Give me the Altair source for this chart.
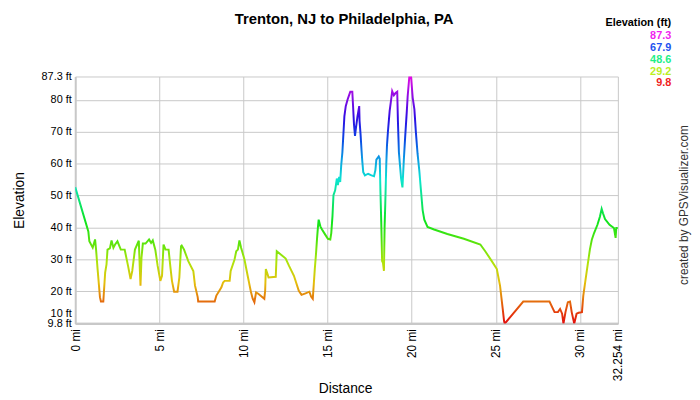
import colorsys
import altair as alt
import pandas as pd

# ---- data ----
dist_mi = [0.00, 0.78, 0.84, 1.04, 1.18, 1.24, 1.33, 1.47, 1.53, 1.67, 1.78, 1.86, 1.92, 2.06, 2.16,
           2.27, 2.37, 2.51, 2.71, 2.94, 3.14, 3.29, 3.39, 3.55, 3.78, 3.84, 3.88, 3.94, 4.02, 4.18,
           4.39, 4.51, 4.61, 4.76, 4.90, 5.06, 5.16, 5.25, 5.37, 5.55, 5.65, 5.75, 5.88, 6.08, 6.19,
           6.29, 6.33, 6.47, 6.72, 7.02, 7.12, 7.28, 7.31, 8.29, 8.39, 8.53, 8.69, 8.79, 8.88, 9.18,
           9.24, 9.47, 9.57, 9.67, 9.76, 9.86, 10.06, 10.25, 10.45, 10.55, 10.65, 10.75, 10.90, 11.24,
           11.29, 11.33, 11.43, 11.49, 11.92, 11.98, 12.51, 12.71, 13.00, 13.29, 13.45, 13.69, 13.92,
           14.02, 14.12, 14.18, 14.24, 14.31, 14.37, 14.43, 14.47, 14.57, 14.67, 14.86, 15.02, 15.16,
           15.22, 15.29, 15.35, 15.45, 15.55, 15.61, 15.69, 15.75, 15.81, 15.88, 15.94, 16.00, 16.08,
           16.19, 16.29, 16.35, 16.47, 16.51, 16.57, 16.63, 16.69, 16.78, 16.88, 16.90, 16.96, 17.02,
           17.06, 17.12, 17.22, 17.41, 17.61, 17.76, 17.84, 17.90, 18.04, 18.10, 18.14, 18.19, 18.24,
           18.29, 18.35, 18.39, 18.43, 18.49, 18.53, 18.59, 18.69, 18.78, 18.84, 18.94, 19.04, 19.14,
           19.18, 19.24, 19.28, 19.37, 19.45, 19.53, 19.61, 19.71, 19.76, 19.86, 19.96, 20.06, 20.16,
           20.25, 20.35, 20.45, 20.55, 20.65, 20.75, 20.94, 21.33, 22.12, 23.10, 24.08, 24.37, 24.76,
           25.06, 25.25, 25.41, 25.49, 25.53, 26.63, 28.19, 28.49, 28.69, 28.82, 28.94, 29.02, 29.14,
           29.28, 29.41, 29.51, 29.66, 29.80, 29.92, 30.12, 30.20, 30.31, 30.45, 30.59, 30.71, 30.84,
           31.04, 31.19, 31.29, 31.37, 31.49, 31.76, 32.02, 32.12, 32.16, 32.254]
elev_ft = [52.6, 38.7, 35.6, 33.6, 36.2, 33.0, 26.9, 18.1, 16.7, 16.7, 25.8, 28.4, 33.0, 33.4, 35.9,
           33.6, 34.6, 35.6, 33.0, 33.0, 27.9, 23.8, 26.3, 33.0, 35.8, 26.9, 21.7, 30.5, 34.9, 34.9,
           36.2, 35.1, 35.9, 33.0, 27.9, 23.2, 24.8, 34.6, 33.0, 33.0, 27.9, 23.2, 19.8, 19.8, 24.3,
           34.1, 34.3, 33.0, 29.4, 26.3, 21.7, 18.1, 16.7, 16.7, 18.6, 19.8, 21.2, 22.7, 23.2, 23.2,
           26.3, 29.9, 32.5, 33.0, 35.9, 33.6, 29.9, 24.8, 19.6, 17.6, 16.5, 19.6, 19.1, 17.6,
           20.1, 26.9, 25.3, 24.3, 24.5, 32.5, 30.2, 27.9, 24.8, 20.1, 18.8, 19.3, 19.8,
           18.3, 17.6, 22.2, 26.9, 31.5, 36.2, 40.3, 42.4, 40.3, 39.3, 37.7, 36.4, 36.2,
           38.2, 43.4, 50.1, 51.6, 55.3, 53.2, 55.8, 54.2, 59.4, 63.5, 69.2, 74.9, 78.0,
           80.1, 81.6, 82.5, 82.5, 78.5, 72.3, 68.7, 71.3, 74.9, 78.0, 73.4, 69.2, 64.0,
           60.9, 57.3, 56.3, 56.8, 56.3, 56.0, 57.9, 61.2, 62.2, 61.5, 51.6, 41.8, 29.4,
           28.9, 26.3, 40.3, 47.5, 59.9, 65.6, 70.2, 76.5, 80.1, 82.7, 81.4, 82.1, 82.5,
           73.4, 63.5, 60.9, 55.3, 52.5, 60.9, 68.2, 76.5, 81.1, 87.3, 87.3, 80.6, 77.0,
           69.7, 63.0, 57.9, 51.6, 45.4, 42.4, 40.1, 39.3, 37.9, 36.4, 34.6, 32.5, 29.4,
           26.9, 21.7, 14.4, 10.6, 9.8, 16.7, 16.7, 13.4, 13.4, 14.4, 12.9, 9.8, 13.4,
           16.5, 16.7, 13.4, 9.8, 12.9, 13.2, 13.4, 18.6, 22.7, 27.9, 33.0, 36.2, 38.2,
           40.8, 43.4, 45.8, 44.4, 42.6, 40.8, 39.8, 36.7, 39.8, 39.8]

y_ticks = [9.8, 10, 20, 30, 40, 50, 60, 70, 80, 87.3]
x_ticks = [0, 5, 10, 15, 20, 25, 30, 32.254]
legend_values = [87.3, 67.9, 48.6, 29.2, 9.8]

title_text = "Trenton, NJ to Philadelphia, PA"
legend_title = "Elevation (ft)"
credit_text = "created by GPSVisualizer.com"

FONT = "Liberation Sans"
ymin, ymax = min(y_ticks), max(y_ticks)


def hue_color(h, l=0.5, s=0.88):
    r, g, b = colorsys.hls_to_rgb(h / 360.0, l, s)
    return "#%02x%02x%02x" % (round(r * 255), round(g * 255), round(b * 255))


# vertical gradient: bottom of path = min elevation (red) -> top = max elevation (magenta)
n_stops = 12
stops = [{"offset": i / n_stops, "color": hue_color(300.0 * i / n_stops, l=0.47, s=0.9)}
         for i in range(n_stops + 1)]
gradient = {"gradient": "linear", "x1": 0, "y1": 1, "x2": 0, "y2": 0, "stops": stops}

profile = pd.DataFrame({"dist": dist_mi, "elev": elev_ft})

x_enc = alt.X("dist:Q",
              scale=alt.Scale(domain=[0, max(x_ticks)], nice=False, zero=False),
              axis=alt.Axis(values=x_ticks, labelExpr="datum.value + ' mi'", labelAngle=270,
                            labelAlign="right", labelBaseline="middle", labelPadding=5,
                            labelFontSize=12,
                            title="Distance", titleX=273, titleY=66, titleBaseline="middle",
                            titleAlign="center", labelOverlap=False))
y_enc = alt.Y("elev:Q",
              scale=alt.Scale(domain=[ymin, ymax], nice=False, zero=False),
              axis=alt.Axis(values=y_ticks, labelExpr="datum.value + ' ft'", labelPadding=4,
                            labelOffset={"condition": {"test": "datum.value == 10", "value": -10},
                                         "value": 0},
                            labelOverlap=False,
                            title="Elevation", titleX=-56, titleY=125, titleAngle=270,
                            titleAlign="center", titleBaseline="middle"))

line = alt.Chart(profile).mark_line(stroke=gradient, strokeWidth=2, clip=True).encode(
    x=x_enc, y=y_enc, order="dist:Q")

hue_stops = [hue_color(h, l=0.53, s=0.87) for h in [0, 75, 150, 225, 300]]
leg_df = pd.DataFrame({"v": legend_values, "label": [f"{v:.1f}" for v in legend_values]})
legend_vals = alt.Chart(leg_df).mark_text(align="right", baseline="middle", fontSize=11,
                                          fontWeight="bold", font=FONT).encode(
    x=alt.value(603),
    y=alt.Y("v:Q", scale=alt.Scale(domain=[min(legend_values), max(legend_values)],
                                   range=[7, -40.7], nice=False, zero=False), axis=None),
    text="label:N",
    color=alt.Color("v:Q", scale=alt.Scale(domain=[min(legend_values), max(legend_values)],
                                           range=hue_stops, interpolate="hsl"), legend=None),
)

legend_head = alt.Chart(pd.DataFrame({"t": [legend_title]})).mark_text(
    align="right", baseline="middle", fontSize=11, fontWeight="bold", font=FONT, color="#000"
).encode(x=alt.value(603), y=alt.value(-54), text="t:N")

title = alt.Chart(pd.DataFrame({"t": [title_text]})).mark_text(
    align="center", baseline="middle", fontSize=15, fontWeight="bold", font=FONT, color="#000"
).encode(x=alt.value(272), y=alt.value(-58), text="t:N")

credit = alt.Chart(pd.DataFrame({"t": [credit_text]})).mark_text(
    align="center", baseline="middle", fontSize=12, font=FONT, color="#333", angle=270
).encode(x=alt.value(616), y=alt.value(130), text="t:N")

chart = alt.layer(line, legend_vals, legend_head, title, credit).resolve_scale(
    y="independent", color="independent"
).properties(
    width=549, height=250,
    autosize=alt.AutoSizeParams(type="none"),
    padding={"left": 68, "top": 67, "right": 75, "bottom": 74},
).configure(font=FONT).configure_axis(
    grid=True, gridColor="#c8c8c8", gridWidth=1, domainColor="#c8c8c8", domainWidth=2,
    ticks=False, labelFont=FONT, labelFontSize=11, labelColor="#000",
    titleFont=FONT, titleFontSize=14, titleFontWeight="normal", titleColor="#000",
).configure_view(stroke=None)

chart.save("out.html", embed_options={"renderer": "svg", "actions": False})
